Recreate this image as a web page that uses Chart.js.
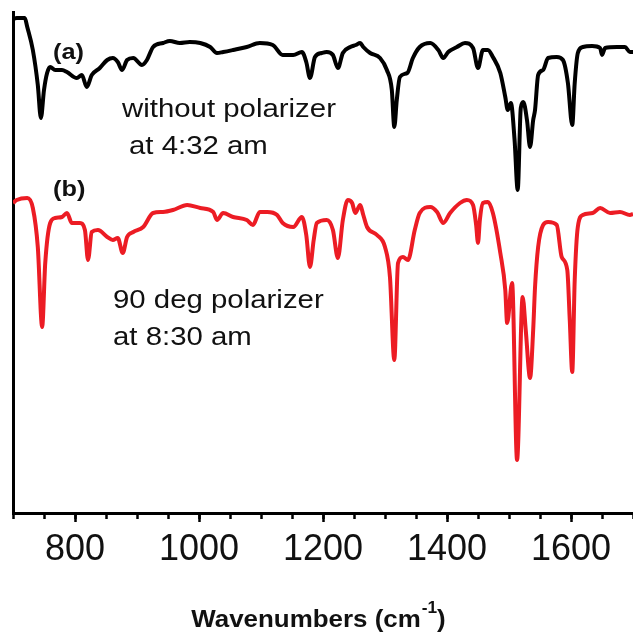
<!DOCTYPE html>
<html lang="en">
<head>
    <meta charset="UTF-8">
    <title>FTIR spectra</title>
    <style>
        body {
            margin: 0;
            padding: 0;
            background: #fff;
        }
        #spectra {
            display: block;
        }
    </style>
</head>
<body>
    <canvas id="spectra" width="633" height="633"></canvas>

    <script src="https://cdn.jsdelivr.net/npm/chart.js"></script>
    <script>
        // Spectrum (a): without polarizer, 4:32 am (intensity in arbitrary units)
        const wavenumbersA = [700, 706, 719, 723, 732, 740, 745, 750, 755, 760, 768, 779, 787, 803, 811, 819, 827, 840, 852, 861,
            869, 876, 884, 894, 908, 916, 926, 942, 953, 969, 985, 1002, 1018, 1029, 1039, 1055, 1077, 1098, 1119, 1135,
            1152, 1166, 1173, 1179, 1187, 1198, 1206, 1216, 1224, 1232, 1244, 1253, 1260, 1265, 1276, 1292, 1303, 1311, 1315, 1319,
            1324, 1336, 1345, 1356, 1373, 1386, 1394, 1402, 1416, 1429, 1442, 1450, 1458, 1466, 1474, 1486, 1494, 1498, 1503, 1509,
            1514, 1519, 1523, 1529, 1534, 1539, 1542, 1547, 1555, 1563, 1577, 1587, 1595, 1602, 1606, 1611, 1619, 1634, 1647, 1650,
            1655, 1674, 1687, 1695, 1700];
        const signalA = [494, 495, 495, 486, 463, 428, 395, 423, 440, 446, 443, 443, 441, 435, 438, 426, 438, 445, 453, 455,
            451, 443, 453, 455, 448, 453, 466, 470, 472, 470, 471, 470, 466, 460, 461, 463, 466, 470, 468, 458,
            458, 461, 451, 435, 456, 460, 461, 458, 445, 460, 466, 468, 470, 466, 460, 455, 443, 423, 386, 413,
            436, 440, 455, 466, 470, 463, 455, 461, 466, 470, 465, 445, 463, 463, 456, 440, 416, 403, 410, 373,
            323, 405, 411, 393, 366, 393, 403, 438, 443, 455, 456, 453, 430, 388, 430, 460, 466, 467, 465, 458,
            465, 466, 466, 461, 461];

        // Spectrum (b): 90 deg polarizer, 8:30 am
        const wavenumbersB = [700, 706, 723, 732, 740, 747, 752, 760, 768, 779, 787, 795, 808, 816, 821, 827, 837, 852, 861, 869,
            877, 884, 894, 910, 926, 942, 958, 981, 1002, 1023, 1029, 1039, 1055, 1077, 1087, 1098, 1110, 1126, 1135, 1152,
            1166, 1173, 1179, 1185, 1190, 1206, 1216, 1224, 1232, 1240, 1247, 1252, 1260, 1265, 1271, 1287, 1300, 1308, 1315, 1321,
            1329, 1337, 1348, 1356, 1373, 1384, 1394, 1405, 1421, 1432, 1442, 1447, 1450, 1453, 1458, 1466, 1474, 1486, 1494, 1497,
            1505, 1513, 1522, 1527, 1534, 1539, 1542, 1547, 1555, 1563, 1577, 1585, 1594, 1598, 1602, 1606, 1611, 1619, 1635, 1647,
            1663, 1679, 1695, 1700];
        const signalB = [310, 313, 315, 305, 266, 186, 250, 290, 295, 296, 300, 290, 290, 283, 253, 281, 283, 276, 273, 275,
            260, 276, 281, 286, 300, 301, 303, 308, 305, 301, 293, 300, 296, 293, 288, 301, 301, 298, 290, 286,
            296, 278, 246, 273, 290, 293, 283, 255, 293, 313, 310, 300, 308, 298, 286, 278, 266, 236, 153, 250,
            256, 253, 283, 300, 306, 301, 290, 300, 310, 313, 308, 288, 270, 293, 310, 311, 300, 260, 223, 190,
            230, 53, 216, 183, 135, 183, 226, 266, 288, 291, 288, 256, 243, 193, 141, 233, 286, 298, 300, 305,
            300, 301, 298, 299];

        const xMin = 700;
        const xMax = 1700;
        const fontFamily = "'Liberation Sans', Arial, sans-serif";

        function toPoints(xs, ys) {
            return xs.map((x, i) => ({ x: x, y: ys[i] }));
        }

        // texte avec étirement horizontal (la figure d'origine est un peu élargie)
        function drawText(ctx, str, x, y, font, sx) {
            ctx.save();
            ctx.font = font;
            ctx.fillStyle = '#111';
            ctx.textBaseline = 'alphabetic';
            ctx.textAlign = 'left';
            ctx.translate(x, y);
            ctx.scale(sx, 1);
            ctx.fillText(str, 0, 0);
            const w = ctx.measureText(str).width * sx;
            ctx.restore();
            return w;
        }

        const annotations = {
            id: 'annotations',
            afterDraw(chart) {
                const ctx = chart.ctx;
                drawText(ctx, '(a)', 53, 59, 'bold 22px ' + fontFamily, 1.15);
                drawText(ctx, 'without polarizer', 122, 117, '26px ' + fontFamily, 1.13);
                drawText(ctx, 'at 4:32 am', 129, 154, '26px ' + fontFamily, 1.13);
                drawText(ctx, '(b)', 53, 196, 'bold 22px ' + fontFamily, 1.15);
                drawText(ctx, '90 deg polarizer', 113, 308, '26px ' + fontFamily, 1.13);
                drawText(ctx, 'at 8:30 am', 113, 345, '26px ' + fontFamily, 1.13);

                // axis title with superscript
                const main = 'bold 24px ' + fontFamily;
                const sup = 'bold 16px ' + fontFamily;
                const sx = 1.08;
                ctx.save();
                ctx.font = main;
                const w1 = ctx.measureText('Wavenumbers (cm').width * sx;
                const w3 = ctx.measureText(')').width * sx;
                ctx.font = sup;
                const w2 = ctx.measureText('-1').width * sx;
                ctx.restore();
                const cx = 318;
                let x = cx - (w1 + w2 + w3) / 2;
                x += drawText(ctx, 'Wavenumbers (cm', x, 627, main, sx);
                x += drawText(ctx, '-1', x + 1, 613, sup, sx) + 1;
                drawText(ctx, ')', x, 627, main, sx);
            }
        };

        new Chart(document.getElementById('spectra').getContext('2d'), {
            type: 'line',
            data: {
                datasets: [{
                    label: '(a) without polarizer at 4:32 am',
                    data: toPoints(wavenumbersA, signalA),
                    borderColor: '#000000',
                    borderWidth: 4,
                    pointRadius: 0,
                    cubicInterpolationMode: 'monotone'
                }, {
                    label: '(b) 90 deg polarizer at 8:30 am',
                    data: toPoints(wavenumbersB, signalB),
                    borderColor: 'rgb(236, 28, 36)',
                    borderWidth: 4,
                    pointRadius: 0,
                    cubicInterpolationMode: 'monotone'
                }]
            },
            options: {
                responsive: false,
                animation: false,
                devicePixelRatio: 1,
                layout: {
                    autoPadding: false,
                    padding: { top: 12, left: 0, right: 0, bottom: 0 }
                },
                plugins: {
                    legend: { display: false },
                    tooltip: { enabled: false }
                },
                scales: {
                    x: {
                        type: 'linear',
                        position: 'bottom',
                        weight: 1,
                        min: xMin,
                        max: xMax,
                        ticks: {
                            stepSize: 50,
                            autoSkip: false,
                            maxRotation: 0,
                            padding: 6,
                            color: '#111',
                            font: { family: fontFamily, size: 36 },
                            callback: v => (v % 200 === 0 ? v : '')
                        },
                        grid: {
                            drawOnChartArea: false,
                            tickLength: 9,
                            tickWidth: 2.5,
                            tickColor: c => (c.tick && c.tick.value % 200 === 0 ? '#000' : 'rgba(0,0,0,0)')
                        },
                        border: { display: true, color: '#000', width: 3 },
                        afterFit: s => {
                            s.height = 120;
                            s.paddingLeft = 0;
                            s.paddingRight = 0;
                        }
                    },
                    xMinor: {
                        type: 'linear',
                        position: 'bottom',
                        weight: 0,
                        min: xMin,
                        max: xMax,
                        ticks: { stepSize: 50, autoSkip: false, display: false },
                        grid: {
                            drawOnChartArea: false,
                            tickLength: 6,
                            tickWidth: 2.5,
                            tickColor: '#000'
                        },
                        border: { display: false },
                        afterFit: s => {
                            s.height = 0;
                            s.paddingLeft = 0;
                            s.paddingRight = 0;
                        }
                    },
                    y: {
                        min: 0,
                        max: 501,
                        ticks: { display: false },
                        grid: { display: false, drawTicks: false },
                        border: { display: true, color: '#000', width: 3 },
                        afterFit: s => { s.width = 13; }
                    }
                }
            },
            plugins: [annotations]
        });
    </script>
</body>
</html>
